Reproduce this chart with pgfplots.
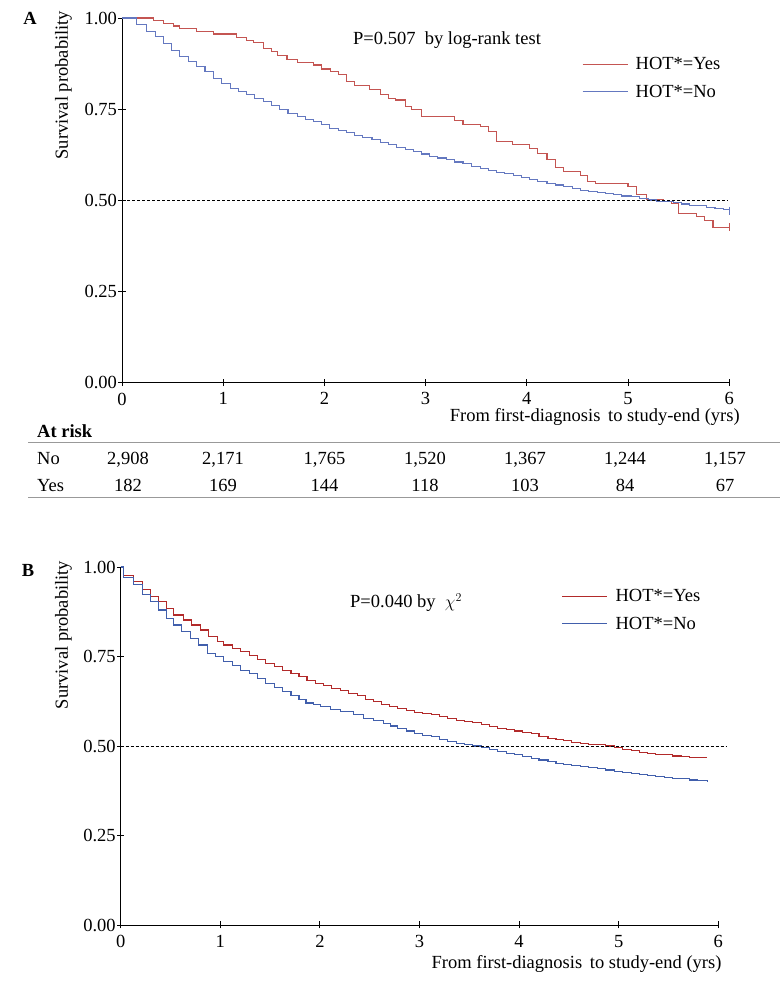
\documentclass[border=0pt]{standalone}
\usepackage{fontspec}
\setmainfont{Liberation Serif}
\usepackage{pgfplots}
\pgfplotsset{compat=1.18}
\newcommand{\fs}{\fontsize{18.5pt}{22pt}\selectfont}
\definecolor{redA}{RGB}{196,85,82}
\definecolor{blueA}{RGB}{100,120,192}
\definecolor{redB}{RGB}{178,42,42}
\definecolor{blueB}{RGB}{65,95,172}
\pgfplotsset{km/.style={
  scale only axis, axis lines*=left,
  xmin=0, xmax=6, ymin=0, ymax=1,
  xtick={0,1,2,3,4,5,6}, ytick={0,0.25,0.5,0.75,1},
  tick align=center, major tick length=7pt,
  tick style={black, line width=0.8pt},
  axis line style={black, line width=0.8pt},
  ticklabel style={font=\fs},
  yticklabel style={xshift=2pt, /pgf/number format/.cd, fixed, fixed zerofill, precision=2, assume math mode=true},
  xticklabel style={yshift=-3pt, /pgf/number format/assume math mode=true},
  clip=false,
  legend image code/.code={\draw[#1] (0pt,0pt) -- (45pt,0pt);},
  legend cell align=left,
  legend style={draw=none, fill=none, inner sep=0pt, font=\fs, row sep=14pt,
    nodes={inner sep=0pt}, anchor=north west},
  /tikz/every odd column/.append style={column sep=7.6pt},
}}
\begin{document}
\begin{tikzpicture}
\useasboundingbox (0,0) rectangle (780pt,983pt);
% ---------------- Panel A ----------------
\begin{axis}[km, at={(122pt,600.3pt)}, anchor=south west,
  width=607.2pt, height=364.7pt,
  ylabel={Survival probability},
  ylabel style={at={(axis description cs:-0.0963,0.816)}, anchor=center, font=\fs},
  xlabel={From first-diagnosis\, to study-end (yrs)},
  xlabel style={at={(axis cs:6.139,-0.107)}, anchor=base east, font=\fs},
  legend style={at={(axis cs:4.543,0.893)}},
]
\addplot[const plot, redA, line width=1.1pt] coordinates {
(0,1.0) (0.31,0.993) (0.41,0.985) (0.51,0.978) (0.57,0.972) (0.74,0.962) (0.9,0.956)
(1.13,0.947) (1.23,0.938) (1.3,0.932) (1.4,0.917) (1.48,0.908) (1.54,0.897) (1.63,0.885)
(1.73,0.879) (1.89,0.871) (1.97,0.86) (2.06,0.853) (2.14,0.844) (2.22,0.825) (2.3,0.816)
(2.45,0.803) (2.55,0.791) (2.63,0.78) (2.7,0.775) (2.8,0.757) (2.86,0.748) (2.96,0.729)
(3.29,0.718) (3.37,0.709) (3.54,0.702) (3.62,0.688) (3.7,0.661) (3.86,0.652) (4.03,0.643)
(4.11,0.629) (4.2,0.611) (4.28,0.59) (4.36,0.578) (4.53,0.569) (4.6,0.551) (4.68,0.547)
(5.0,0.537) (5.08,0.515) (5.18,0.503) (5.35,0.496) (5.43,0.492) (5.5,0.464) (5.68,0.455)
(5.76,0.444) (5.84,0.426) (6.0,0.426)};
\addlegendentry{HOT*=Yes}
\addplot[const plot, blueA, line width=1.1pt] coordinates {
(0,1) (0.145,0.981) (0.24,0.962) (0.33,0.949) (0.41,0.931) (0.49,0.912) (0.57,0.894)
(0.66,0.88) (0.74,0.866) (0.82,0.853) (0.9,0.835) (0.98,0.821) (1.07,0.807) (1.15,0.798)
(1.23,0.789) (1.31,0.78) (1.4,0.771) (1.48,0.759) (1.56,0.748) (1.64,0.739) (1.73,0.729)
(1.81,0.722) (1.89,0.716) (1.97,0.707) (2.05,0.698) (2.14,0.691) (2.22,0.686) (2.3,0.679)
(2.38,0.673) (2.47,0.666) (2.55,0.658) (2.63,0.652) (2.71,0.645) (2.8,0.639) (2.88,0.633)
(2.96,0.627) (3.04,0.62) (3.12,0.616) (3.21,0.611) (3.29,0.605) (3.37,0.6) (3.45,0.594)
(3.54,0.588) (3.62,0.583) (3.7,0.577) (3.78,0.573) (3.87,0.568) (3.95,0.562) (4.03,0.556)
(4.11,0.552) (4.2,0.547) (4.28,0.542) (4.36,0.537) (4.45,0.532) (4.53,0.528) (4.61,0.525)
(4.7,0.522) (4.78,0.518) (4.86,0.515) (4.94,0.512) (5.03,0.51) (5.11,0.505) (5.2,0.501)
(5.28,0.498) (5.36,0.496) (5.45,0.493) (5.53,0.49) (5.61,0.487) (5.69,0.485) (5.78,0.481)
(5.86,0.478) (5.94,0.474) (6.0,0.472)};
\addlegendentry{HOT*=No}
\addplot[redA, only marks, mark=|, mark size=4pt, line width=1pt, forget plot] coordinates {(6,0.426)};
\addplot[blueA, only marks, mark=|, mark size=4pt, line width=1pt, forget plot] coordinates {(6,0.472)};
\addplot[black, line width=0.7pt, dash pattern=on 3pt off 2pt, forget plot] coordinates {(0,0.5) (5.98,0.5)};
\end{axis}
% ---------------- Panel B ----------------
\begin{axis}[km, at={(120.7pt,58pt)}, anchor=south west,
  width=597.6pt, height=358pt,
  ylabel={Survival probability},
  ylabel style={at={(axis description cs:-0.0957,0.81)}, anchor=center, font=\fs},
  xlabel={From first-diagnosis\, to study-end (yrs)},
  xlabel style={at={(axis cs:6.067,-0.1215)}, anchor=base east, font=\fs},
  legend style={at={(axis cs:4.428,0.9385)}},
]
\addplot[const plot, redB, line width=1.1pt] coordinates {
(0,1.0) (0.03,0.975) (0.13,0.959) (0.22,0.936) (0.3,0.917) (0.38,0.903) (0.46,0.885)
(0.53,0.866) (0.63,0.852) (0.71,0.838) (0.8,0.824) (0.88,0.805) (0.97,0.791) (1.03,0.782)
(1.12,0.773) (1.2,0.763) (1.29,0.754) (1.37,0.742) (1.45,0.731) (1.54,0.722) (1.62,0.712)
(1.71,0.703) (1.79,0.694) (1.87,0.684) (1.96,0.675) (2.04,0.668) (2.12,0.661) (2.21,0.655)
(2.29,0.647) (2.38,0.64) (2.46,0.631) (2.54,0.624) (2.62,0.617) (2.7,0.611) (2.78,0.605)
(2.87,0.599) (2.95,0.593) (3.03,0.59) (3.12,0.587) (3.2,0.582) (3.28,0.577) (3.37,0.572)
(3.45,0.568) (3.53,0.565) (3.62,0.561) (3.7,0.555) (3.78,0.549) (3.87,0.545) (3.95,0.542)
(4.03,0.538) (4.12,0.534) (4.2,0.527) (4.29,0.521) (4.37,0.518) (4.45,0.515) (4.53,0.511)
(4.62,0.507) (4.7,0.505) (4.79,0.503) (4.87,0.5) (4.96,0.496) (5.04,0.491) (5.13,0.487)
(5.21,0.483) (5.29,0.479) (5.37,0.477) (5.46,0.475) (5.54,0.472) (5.63,0.47) (5.71,0.468)
(5.79,0.467) (5.89,0.467)};
\addlegendentry{HOT*=Yes}
\addplot[const plot, blueB, line width=1.1pt] coordinates {
(0,1.0) (0.03,0.971) (0.13,0.95) (0.22,0.922) (0.3,0.903) (0.38,0.88) (0.46,0.857)
(0.53,0.838) (0.61,0.819) (0.7,0.8) (0.78,0.782) (0.87,0.759) (0.95,0.749) (1.03,0.735)
(1.12,0.726) (1.2,0.712) (1.29,0.703) (1.37,0.689) (1.45,0.675) (1.54,0.664) (1.62,0.652)
(1.71,0.642) (1.79,0.631) (1.86,0.62) (1.94,0.615) (2.01,0.61) (2.11,0.602) (2.21,0.596)
(2.34,0.587) (2.44,0.577) (2.54,0.571) (2.64,0.563) (2.71,0.556) (2.78,0.549) (2.87,0.542)
(2.95,0.535) (3.03,0.53) (3.12,0.526) (3.2,0.519) (3.28,0.512) (3.37,0.508) (3.45,0.505)
(3.53,0.5) (3.62,0.495) (3.7,0.489) (3.78,0.484) (3.87,0.479) (3.95,0.475) (4.03,0.47)
(4.12,0.466) (4.2,0.461) (4.29,0.456) (4.37,0.452) (4.45,0.449) (4.53,0.445) (4.62,0.442)
(4.7,0.439) (4.79,0.436) (4.87,0.433) (4.96,0.43) (5.04,0.427) (5.13,0.424) (5.21,0.42)
(5.29,0.417) (5.37,0.415) (5.46,0.413) (5.54,0.41) (5.63,0.408) (5.71,0.405) (5.79,0.403)
(5.89,0.402)};
\addlegendentry{HOT*=No}
\addplot[black, line width=0.7pt, dash pattern=on 3pt off 2pt, forget plot] coordinates {(0,0.5) (6.09,0.5)};
\end{axis}
% ---------------- texts ----------------
\node[font=\bfseries\fs, anchor=center] at (30pt,965pt) {A};
\node[font=\bfseries\fs, anchor=center] at (28pt,413pt) {B};
\node[font=\fs, anchor=base west, inner sep=0pt] at (353pt,938.9pt) {P=0.507\ \ by log-rank test};
\node[font=\fs, anchor=base west, inner sep=0pt] at (350pt,375pt) {P=0.040 by\ \ $\chi^{2}$};
% at-risk table
\node[font=\bfseries\fs, anchor=base west, inner sep=0pt] at (37pt,545.2pt) {At risk};
\draw[black!40, line width=0.8pt] (28pt,541pt) -- (780pt,541pt);
\draw[black!40, line width=0.8pt] (28pt,486pt) -- (780pt,486pt);
\node[font=\fs, anchor=base west, inner sep=0pt] at (37pt,518.8pt) {No};
\node[font=\fs, anchor=base west, inner sep=0pt] at (37pt,491.8pt) {Yes};
\foreach \x/\a/\b in {128/{2,908}/182, 223/{2,171}/169, 324.5/{1,765}/144, 425/{1,520}/118, 525/{1,367}/103, 625/{1,244}/84, 725/{1,157}/67}{
  \node[font=\fs, anchor=base, inner sep=0pt] at (\x pt,518.8pt) {\a};
  \node[font=\fs, anchor=base, inner sep=0pt] at (\x pt,491.8pt) {\b};
}
\end{tikzpicture}
\end{document}
